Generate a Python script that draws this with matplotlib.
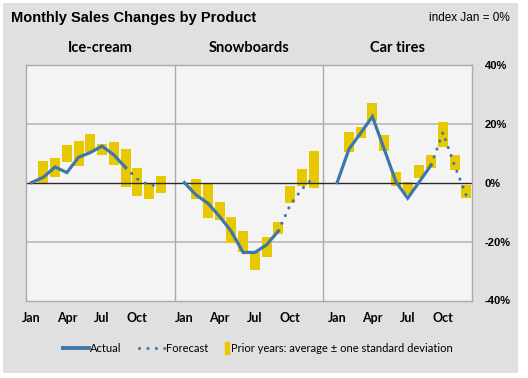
import matplotlib.pyplot as plt
from matplotlib.lines import Line2D
from matplotlib.patches import Rectangle, Patch

# data, % change vs January
products = ["Ice-cream", "Snowboards", "Car tires"]
month_ticks = ["Jan", "Apr", "Jul", "Oct"]

actual = [
    [0, 1.8, 5.3, 3.4, 8.6, 10.2, 12.4, 9.4, 5.1],
    [0, -4.2, -7.0, -11.5, -16.6, -23.7, -23.7, -21.1, -16.4],
    [0, 11.3, 16.8, 22.4, 11.4, 0.3, -5.3, 0.3, 6.0],
]
# Sep..Dec
forecast = [
    [5.1, 1.2, -0.8, -1.1],
    [-16.4, -7.6, -2.2, 1.8],
    [6.0, 17.0, 5.7, -4.5],
]
# prior years band, Feb..Dec
band_hi = [
    [7.3, 8.3, 12.8, 14.1, 16.5, 13.1, 13.8, 11.4, 5.1, 0.0, 2.3],
    [1.3, -0.4, -6.5, -11.6, -16.4, -23.7, -18.4, -13.4, -1.1, 4.6, 10.7],
    [17.0, 18.8, 27.1, 16.2, 3.7, 0.1, 6.0, 9.4, 20.6, 9.4, -0.8],
]
band_lo = [
    [-0.2, 2.0, 6.9, 5.8, 10.5, 9.4, 6.0, -1.4, -4.4, -5.6, -3.6],
    [-5.6, -11.9, -12.6, -20.5, -23.7, -29.8, -25.1, -17.4, -6.8, -1.1, -2.0],
    [10.5, 15.0, 21.0, 10.8, -1.0, -3.8, 1.7, 5.1, 12.0, 4.3, -5.1],
]

blue = "#3f77ab"
gold = "#e8c800"
block = 13  # months per panel incl. gap
dots = (0.05, 2.7)

fig = plt.figure(figsize=(5.28, 3.78), dpi=100)
fig.patch.set_facecolor("white")
fig.add_artist(Rectangle((3 / 528, 1 - 373 / 378), 515 / 528, 370 / 378,
                         transform=fig.transFigure, facecolor="#e0e0e0",
                         edgecolor="none", zorder=-10))

ax = fig.add_axes([25.7 / 528, 1 - 300.5 / 378, 446.6 / 528, 235.8 / 378])
ax.set_facecolor("#f4f4f4")
ax.set_xlim(-0.5, 37.5)
ax.set_ylim(-40, 40)

for k in range(3):
    off = k * block
    x_band = [off + m for m in range(1, 12)]
    h = [hi - lo for hi, lo in zip(band_hi[k], band_lo[k])]
    ax.bar(x_band, h, bottom=band_lo[k], width=0.85, color=gold, zorder=2)
    ax.plot([off + m for m in range(len(actual[k]))], actual[k], color=blue,
            lw=2.3, solid_joinstyle="miter", zorder=3)
    ax.plot([off + m for m in range(8, 12)], forecast[k], color=blue, lw=2.2,
            dashes=dots, dash_capstyle="round", zorder=3)

for y in (-20, 20):
    ax.axhline(y, color="#bdbdbd", lw=1.3, zorder=1)
ax.axhline(0, color="#2a2a2a", lw=1.0, zorder=2.5)
for frac in (1 / 3, 2 / 3):
    ax.axvline(-0.5 + 38 * frac, color="#ababab", lw=1.0, zorder=1)

for s in ax.spines.values():
    s.set_color("#ababab")
    s.set_linewidth(1.0)

ticks = [k * block + m for k in range(3) for m in (0, 3, 6, 9)]
ax.set_xticks(ticks)
ax.set_xticklabels(month_ticks * 3, fontsize=9, fontweight="bold", family="Lato")
ax.yaxis.tick_right()
ax.set_yticks([-40, -20, 0, 20, 40])
ax.set_yticklabels(["-40%", "-20%", "0%", "20%", "40%"], fontsize=8,
                   fontweight="bold", family="Liberation Sans")
ax.tick_params(length=0)
ax.tick_params(axis="x", pad=8)
ax.tick_params(axis="y", pad=9)

for k, name in enumerate(products):
    ax.text((k + 0.5) / 3, 1.07, name, transform=ax.transAxes, ha="center",
            va="center", fontsize=10.5, fontweight="bold", family="Lato")

fig.text(11 / 528, 1 - 18 / 378, "Monthly Sales Changes by Product",
         ha="left", va="center", fontsize=10.5, fontweight="bold",
         family="Liberation Sans")
fig.text(510 / 528, 1 - 18 / 378, "index Jan = 0%", ha="right", va="center",
         fontsize=8.5, family="Liberation Sans")

# legend: lines, then the narrow band swatch
lines = [
    Line2D([], [], color=blue, lw=2.8),
    Line2D([], [], color=blue, lw=2.2, dashes=dots, dash_capstyle="round"),
]
fig.legend(lines, ["Actual", "Forecast"], loc="center left",
           bbox_to_anchor=(57 / 528, 1 - 348 / 378), ncol=2,
           frameon=False, prop={"family": "Lato", "size": 8},
           borderpad=0, handlelength=2.4, handletextpad=0.1,
           columnspacing=1.5)
fig.legend([Patch(color=gold)],
           ["Prior years: average ± one standard deviation"],
           loc="center left", bbox_to_anchor=(219 / 528, 1 - 348 / 378),
           frameon=False, prop={"family": "Lato", "size": 8}, borderpad=0,
           handlelength=0.4, handleheight=1.3, handletextpad=0.15)

fig.savefig("out.png", dpi=100)
